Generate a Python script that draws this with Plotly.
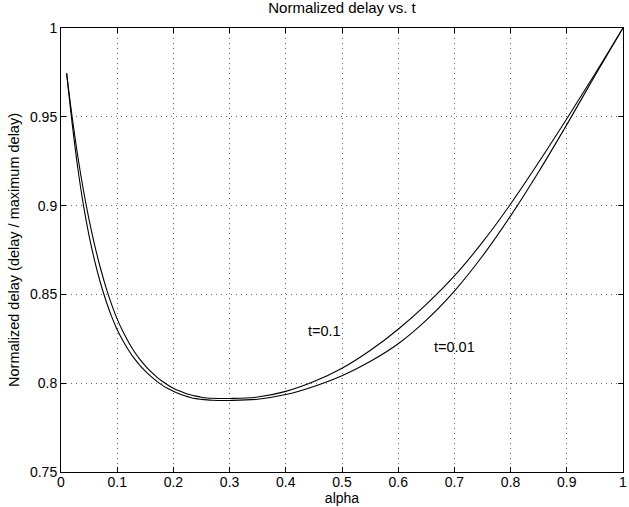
import plotly.graph_objects as go

# alpha grid shared by both curves
alpha = [0.01, 0.02, 0.03, 0.04, 0.05, 0.06, 0.07, 0.08, 0.09, 0.10,
         0.11, 0.12, 0.13, 0.14, 0.15, 0.16, 0.17, 0.18, 0.19, 0.20,
         0.21, 0.22, 0.23, 0.24, 0.25, 0.26, 0.27, 0.28, 0.29, 0.30,
         0.35, 0.40, 0.45, 0.50, 0.55, 0.60, 0.65, 0.70, 0.75, 0.80,
         0.85, 0.90, 0.95, 1.00]

# t = 0.1 curve (upper)
delay_t01 = [0.9745, 0.9495, 0.9275, 0.9085, 0.8920, 0.8776, 0.8650, 0.8540, 0.8444, 0.8361,
             0.8292, 0.8232, 0.8180, 0.8136, 0.8098, 0.8065, 0.8036, 0.8011, 0.7990, 0.7972,
             0.7957, 0.7945, 0.7935, 0.7927, 0.7921, 0.7917, 0.7915, 0.7914, 0.7914, 0.7914,
             0.7922, 0.7954, 0.8009, 0.8084, 0.8184, 0.8304, 0.8444, 0.8604, 0.8794, 0.9009,
             0.9244, 0.9489, 0.9741, 1.0]

# t = 0.01 curve (lower)
delay_t001 = [0.9745, 0.9459, 0.9209, 0.9001, 0.8830, 0.8688, 0.8567, 0.8464, 0.8376, 0.8301,
              0.8240, 0.8187, 0.8141, 0.8102, 0.8068, 0.8038, 0.8012, 0.7989, 0.7970, 0.7954,
              0.7940, 0.7929, 0.7920, 0.7913, 0.7909, 0.7906, 0.7904, 0.7903, 0.7903, 0.7903,
              0.7910, 0.7936, 0.7982, 0.8042, 0.8122, 0.8222, 0.8355, 0.8519, 0.8716, 0.8942,
              0.9191, 0.9456, 0.9731, 1.0]

x_ticks = [0, 0.1, 0.2, 0.3, 0.4, 0.5, 0.6, 0.7, 0.8, 0.9, 1]
x_tick_text = ["0", "0.1", "0.2", "0.3", "0.4", "0.5", "0.6", "0.7", "0.8", "0.9", "1"]
y_ticks = [0.75, 0.8, 0.85, 0.9, 0.95, 1]
y_tick_text = ["0.75", "0.8", "0.85", "0.9", "0.95", "1"]

label_text = ["t=0.1", "t=0.01"]
label_x = [0.468, 0.70]
label_y = [0.8294, 0.8206]

FONT = "Liberation Sans, Arial, Helvetica, sans-serif"

fig = go.Figure()
fig.add_trace(go.Scatter(x=alpha, y=delay_t01, mode="lines", name="t=0.1",
                         line=dict(color="black", width=1.1, shape="spline", smoothing=1.0)))
fig.add_trace(go.Scatter(x=alpha, y=delay_t001, mode="lines", name="t=0.01",
                         line=dict(color="black", width=1.1, shape="spline", smoothing=1.0)))

for txt, xa, ya in zip(label_text, label_x, label_y):
    fig.add_annotation(x=xa, y=ya, text=txt, showarrow=False,
                       font=dict(family=FONT, size=14.5, color="black"))

axis_common = dict(
    showline=True, linecolor="black", linewidth=1, mirror="ticks",
    ticks="inside", ticklen=5, tickcolor="black", tickwidth=1,
    showgrid=True, gridcolor="#666666", griddash="1px,4px", gridwidth=1,
    zeroline=False, automargin=False,
    tickfont=dict(family=FONT, size=14, color="black"),
)

fig.update_xaxes(range=[0, 1], tickvals=x_ticks, ticktext=x_tick_text, ticklabelstandoff=-3,
                 title=dict(text="alpha", font=dict(family=FONT, size=14, color="black"), standoff=2),
                 **axis_common)
fig.update_yaxes(range=[0.75, 1], tickvals=y_ticks, ticktext=y_tick_text,
                 title=dict(text="Normalized delay (delay / maximum delay)",
                            font=dict(family=FONT, size=14.5, color="black"), standoff=6),
                 **axis_common)

fig.update_layout(
    width=629, height=507,
    margin=dict(l=61, r=6, t=28, b=35),
    paper_bgcolor="white", plot_bgcolor="white",
    showlegend=False,
    title=dict(text="Normalized delay vs. t", xref="paper", x=0.5, xanchor="center",
               yref="container", y=0.995, yanchor="top",
               font=dict(family=FONT, size=15, color="black")),
)

fig.write_html("out.html", config={"displayModeBar": False},
               post_script="document.body.style.margin='0px';document.body.style.padding='0px';")
